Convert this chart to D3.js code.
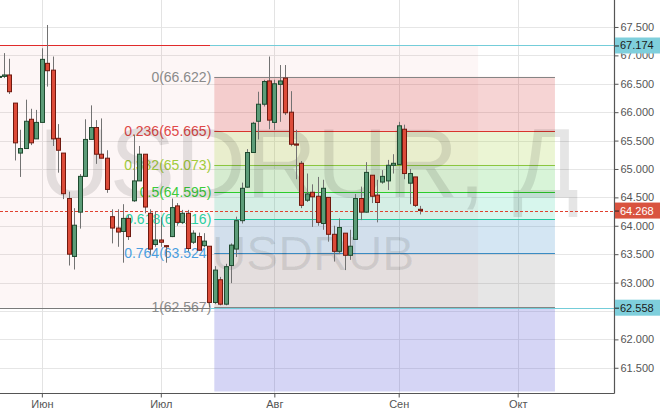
<!DOCTYPE html>
<html>
<head>
<meta charset="utf-8">
<script src="https://cdn.jsdelivr.net/npm/d3@7/dist/d3.min.js"></script>
<style>
  html, body { margin: 0; padding: 0; background: #fff; }
  svg { display: block; }
  text { font-family: "Liberation Sans", Arial, sans-serif; }
</style>
</head>
<body>
<svg id="chart" width="664" height="414"></svg>
<script>
// ---------- data ----------
const startIdx = -1; // trading-day index of the first candle
const opens  = [66.62,66.63,66.655,66.16,65.28,65.36,65.875,65.53,65.82,66.86,66.74,65.54,65.28,64.48,63.46,64.24,64.87,65.52,65.73,65.26,65.19,64.16,63.96,63.90,64.13,64.44,64.79,65.26,64.22,63.67,63.75,63.65,63.81,64.35,64.06,64.22,63.71,63.81,63.65,63.64,62.65,63.05,62.62,63.30,63.59,64.09,64.68,65.29,65.84,66.14,66.55,65.82,66.49,66.60,66.00,65.44,65.10,64.45,64.59,64.52,64.04,64.50,63.85,63.55,63.87,63.48,63.76,64.48,64.24,64.89,64.54,64.77,64.79,65.065,65.08,65.70,64.75,64.86,64.29];
const highs  = [66.70,67.04,66.94,66.16,65.69,66.22,66.06,66.04,67.125,67.535,66.98,65.79,65.28,64.60,64.31,64.91,65.875,66.12,65.86,65.89,65.33,64.29,64.29,64.38,64.19,65.60,65.405,65.26,64.29,64.25,64.15,63.66,64.48,64.40,64.28,64.28,63.92,63.88,63.87,63.64,63.29,63.10,63.33,63.69,64.16,64.76,65.35,65.83,66.36,66.57,66.98,66.57,66.83,66.83,66.37,65.69,65.14,64.92,64.73,64.86,64.81,64.50,64.00,64.13,63.87,63.93,64.56,64.69,65.12,64.89,64.81,64.98,65.16,65.26,65.83,65.78,65.00,64.86,64.35];
const lows   = [66.58,66.60,66.32,65.15,64.86,65.36,65.42,65.53,65.82,66.45,65.405,64.935,64.47,63.30,63.23,63.95,64.87,65.52,65.09,65.19,64.58,63.69,63.63,63.35,63.75,64.42,64.79,64.22,63.49,63.63,63.63,63.35,63.80,64.00,64.03,63.55,63.68,63.56,63.62,62.567,62.62,62.60,62.60,62.99,63.45,64.04,64.67,65.29,65.52,66.10,65.70,65.69,65.83,65.95,65.40,64.82,64.31,64.42,63.98,64.00,63.93,63.72,63.37,63.50,63.22,63.40,63.76,64.10,64.23,64.40,64.06,64.74,64.63,64.92,65.08,64.82,64.38,64.33,64.20];
const closes = [66.63,66.655,66.36,65.46,65.36,65.84,65.46,65.82,66.93,66.73,65.53,65.33,64.565,63.50,64.01,64.87,65.52,65.73,65.26,65.19,64.64,63.96,63.89,64.13,63.81,64.79,65.26,64.33,63.59,63.75,63.71,63.63,64.32,64.06,64.22,63.60,63.87,63.57,63.73,62.65,63.22,62.62,63.28,63.66,64.09,64.66,65.29,65.805,66.14,66.54,65.86,66.50,66.55,65.99,65.435,65.42,64.36,64.56,64.51,64.06,64.66,63.85,63.55,63.97,63.48,63.64,64.48,64.24,64.94,64.52,64.41,64.87,65.065,65.10,65.76,64.92,64.92,64.36,64.268];

const yTickValues = [61.5,62.0,62.5,63.0,63.5,64.0,64.5,65.0,65.5,66.0,66.5,67.0,67.5];
const monthLabels = ["Июн","Июл","Авг","Сен","Окт"];
const monthIdx    = [7, 29, 50, 73, 95];

const fibLevels = [0, 0.236, 0.382, 0.5, 0.618, 0.764, 1, 1.618];
const fibHigh = 66.622, fibLow = 62.567;
const fibSpan = [38.9, 101.9];          // trading-day index span of the fib tool
const boxSpan = [-3, 87.7];             // rectangle drawing span
const boxPrices = [67.174, 62.558];
const rayStart = 38.1;                  // where the horizontal rays turn cyan
const lastPrice = 64.268;

const bigWatermark = "USDRUR, Д";
const smallWatermark = "USDRUB";

// ---------- styles ----------
const fibLineColors = ["#858585","#d8342c","#8cc63f","#2ccc2c","#22c9a0","#3a8cc4","#858585"];
const fibLabelColors = ["#8a8a8a","#e04848","#a2cc3c","#3ccc3c","#2ccfa0","#4a9ee0","#8a8a8a"];
const fibFills = ["rgba(215,60,60,0.22)","rgba(165,210,60,0.22)","rgba(60,200,60,0.2)","rgba(40,205,160,0.19)","rgba(60,140,200,0.22)","rgba(120,120,120,0.19)","rgba(80,80,215,0.24)"];
const boxLineColors = ["#e02a2a", "#7a7a7a"];

const W = 664, H = 414, plotR = 614, plotB = 393;
const svg = d3.select("#chart");

const x = d3.scaleLinear().domain([-0.7398, 112.82]).range([0, plotR]);
const y = d3.scaleLinear().domain([61.056, 67.975]).range([plotB, 0]);
const py = v => Math.round(y(v)) + 0.5;

svg.append("rect").attr("width", W).attr("height", H).attr("fill", "#fff");

svg.append("defs").append("clipPath").attr("id", "plotclip")
  .append("rect").attr("x", 0).attr("y", 0).attr("width", plotR).attr("height", plotB);

const plot = svg.append("g").attr("clip-path", "url(#plotclip)");

// grid
plot.append("g").selectAll("line").data(yTickValues).join("line")
  .attr("x1", 0).attr("x2", plotR)
  .attr("y1", d => py(d)).attr("y2", d => py(d))
  .attr("stroke", "#e6e6e6").attr("stroke-width", 1);
plot.append("g").selectAll("line").data(monthIdx).join("line")
  .attr("y1", 0).attr("y2", plotB)
  .attr("x1", d => Math.round(x(d)) + 0.5).attr("x2", d => Math.round(x(d)) + 0.5)
  .attr("stroke", "#e3e3e3").attr("stroke-width", 1);

// rectangle drawing
plot.append("rect")
  .attr("x", x(boxSpan[0])).attr("width", x(boxSpan[1]) - x(boxSpan[0]))
  .attr("y", y(boxPrices[0])).attr("height", y(boxPrices[1]) - y(boxPrices[0]))
  .attr("fill", "rgba(225,100,100,0.06)");

// fib fills
const fibPrice = l => fibHigh - l * (fibHigh - fibLow);
const fx0 = x(fibSpan[0]), fx1 = x(fibSpan[1]);
const bands = d3.pairs(fibLevels);
plot.append("g").selectAll("rect").data(bands).join("rect")
  .attr("x", fx0).attr("width", fx1 - fx0)
  .attr("y", d => y(fibPrice(d[0])))
  .attr("height", d => Math.min(plotB - 1.5, y(fibPrice(d[1]))) - y(fibPrice(d[0])))
  .attr("fill", (d, i) => fibFills[i]);

// fib lines
const shownLevels = fibLevels.slice(0, 7);
plot.append("g").selectAll("line").data(shownLevels).join("line")
  .attr("x1", fx0).attr("x2", fx1)
  .attr("y1", d => py(fibPrice(d))).attr("y2", d => py(fibPrice(d)))
  .attr("stroke", (d, i) => fibLineColors[i]).attr("stroke-width", 1);

// fib labels
plot.append("g").selectAll("text").data(shownLevels).join("text")
  .attr("x", fx0 - 3)
  .attr("y", d => y(fibPrice(d)) + 5)
  .attr("text-anchor", "end")
  .attr("font-size", 14)
  .attr("fill", (d, i) => fibLabelColors[i])
  .text(d => `${d}(${(fibPrice(d) + 1e-9).toFixed(3)})`);

// watermarks
plot.append("text").attr("x", 309).attr("y", 197).attr("text-anchor", "middle")
  .attr("font-size", 98).attr("fill", "rgba(0,0,0,0.1)").text(bigWatermark);
plot.append("text").attr("x", 313).attr("y", 270).attr("text-anchor", "middle")
  .attr("font-size", 48).attr("fill", "rgba(0,0,0,0.09)").text(smallWatermark);

// horizontal lines of the rectangle / rays
boxPrices.forEach((p, i) => {
  plot.append("line").attr("x1", 0).attr("x2", x(rayStart)).attr("y1", py(p)).attr("y2", py(p))
    .attr("stroke", boxLineColors[i]).attr("stroke-width", 1);
  plot.append("line").attr("x1", x(rayStart)).attr("x2", plotR).attr("y1", py(p)).attr("y2", py(p))
    .attr("stroke", "#74cdd9").attr("stroke-width", 1);
});

// last price dashed line
plot.append("line").attr("x1", 0).attr("x2", plotR)
  .attr("y1", py(lastPrice)).attr("y2", py(lastPrice))
  .attr("stroke", "#e0402f").attr("stroke-width", 1).attr("stroke-dasharray", "3,2");

// candles
const candles = opens.map((o, i) => ({ i: startIdx + i, o, h: highs[i], l: lows[i], c: closes[i] }));
const cg = plot.append("g");
cg.selectAll("line").data(candles).join("line")
  .attr("x1", d => Math.round(x(d.i)) + 0.5).attr("x2", d => Math.round(x(d.i)) + 0.5)
  .attr("y1", d => y(d.h)).attr("y2", d => y(d.l))
  .attr("stroke", "#727272").attr("stroke-width", 1);
cg.selectAll("rect").data(candles).join("rect")
  .attr("x", d => Math.round(x(d.i)) - 1.5)
  .attr("width", 4)
  .attr("y", d => y(Math.max(d.o, d.c)))
  .attr("height", d => Math.max(1, Math.abs(y(d.o) - y(d.c))))
  .attr("fill", d => d.c >= d.o ? "#5c9c78" : "#dc4b39")
  .attr("stroke", d => d.c >= d.o ? "#1f4a2f" : "#70190f")
  .attr("stroke-width", 1);

// axes
const yAxis = d3.axisRight(y).tickValues(yTickValues).tickFormat(d3.format(".3f"))
  .tickSize(4).tickSizeOuter(0).tickPadding(2);
const ga = svg.append("g").attr("transform", `translate(${plotR + 0.5},0)`).call(yAxis);
ga.select(".domain").attr("d", `M0,0V${plotB + 0.5}`);

const xAxis = d3.axisBottom(x).tickValues(monthIdx).tickFormat((d, i) => monthLabels[i])
  .tickSize(4).tickSizeOuter(0).tickPadding(3);
const gx = svg.append("g").attr("transform", `translate(0,${plotB + 0.5})`).call(xAxis);
gx.select(".domain").attr("d", `M0,0H${plotR + 0.5}`);

[ga, gx].forEach(g => {
  g.select(".domain").attr("stroke", "#555").attr("stroke-width", 1.2);
  g.selectAll(".tick line").attr("stroke", "#555");
  g.selectAll(".tick text").attr("fill", "#555").attr("font-size", 11)
    .attr("font-family", "'Liberation Sans', Arial, sans-serif");
});

// price tags
const tags = [
  { p: boxPrices[0], bg: "#7fcfdc", fg: "#1a1a1a" },
  { p: lastPrice,    bg: "#d9533f", fg: "#ffffff" },
  { p: boxPrices[1], bg: "#7fcfdc", fg: "#1a1a1a" }
];
const tg = svg.append("g").selectAll("g").data(tags).join("g")
  .attr("transform", d => `translate(${plotR + 1},${y(d.p)})`);
tg.append("rect").attr("x", 0).attr("y", -8).attr("width", 45).attr("height", 16)
  .attr("fill", d => d.bg);
tg.append("line").attr("x1", 0).attr("x2", 4).attr("y1", 0.5).attr("y2", 0.5)
  .attr("stroke", "#222");
tg.append("text").attr("x", 5).attr("y", 4).attr("font-size", 11)
  .attr("fill", d => d.fg).text(d => d.p.toFixed(3));
</script>
</body>
</html>
